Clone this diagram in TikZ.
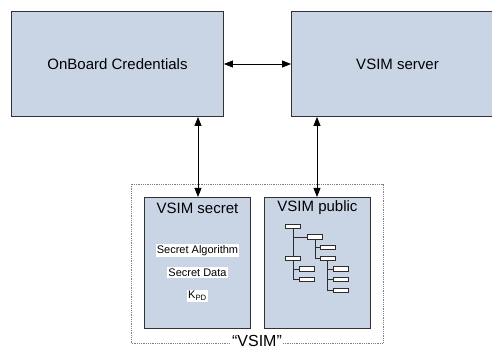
\documentclass[tikz,border=0pt]{standalone}
\usepackage{fontspec}
\setmainfont{Liberation Sans}
\usetikzlibrary{arrows.meta}
\definecolor{boxfill}{RGB}{201,213,229}
\definecolor{boxline}{RGB}{50,50,50}
\definecolor{treeline}{RGB}{45,45,45}
\tikzset{
  bigbox/.style={draw=boxline, line width=0.9pt, fill=boxfill, minimum width=212pt,
    minimum height=105pt, inner sep=0pt, font=\fontsize{15}{18}\selectfont},
  innerbox/.style={draw=boxline, line width=1.1pt, fill=boxfill, minimum width=106pt,
    minimum height=131pt, inner sep=0pt},
  boxtitle/.style={inner sep=0pt, font=\fontsize{15}{18}\selectfont},
  secretitem/.style={fill=white, inner sep=1.2pt, font=\fontsize{11}{13}\selectfont},
  leaf/.style={draw=treeline, line width=1pt, fill=white, minimum width=15pt,
    minimum height=4.4pt, inner sep=0pt},
  link/.style={draw=treeline, line width=1pt},
  biarrow/.style={line width=0.8pt, {Triangle[length=9pt,width=7pt]}-{Triangle[length=9pt,width=7pt]}},
  outline/.style={draw=gray, line width=0.6pt, dash pattern=on 1pt off 0.8pt}
}
\begin{document}
\begin{tikzpicture}[x=1pt, y=-1pt]
  \useasboundingbox (0,0) rectangle (492,348);
  \clip (0,0) rectangle (492,348);

  % top level components
  \node[bigbox] (obc) at (117.5,64) {OnBoard Credentials};
  \node[bigbox] (srv) at (397.5,64) {VSIM server};

  % the VSIM container
  \draw[outline] (131,184) rectangle (383,343.5);
  \node[innerbox] (sec) at (197.5,263) {};
  \node[innerbox] (pub) at (317.5,263) {};
  \node[boxtitle] at (197.5,208) {VSIM secret};
  \node[boxtitle] at (317.5,208) {VSIM public};
  \node[fill=white, inner xsep=1.5pt, inner ysep=0pt, font=\fontsize{16}{18}\selectfont] (lbl) at (257,340.5) {“VSIM”};

  % secret contents
  \node[secretitem] (alg) at (197.5,250.5) {Secret Algorithm};
  \node[secretitem] (dat) at (197.5,272.5) {Secret Data};
  \node[secretitem] (kpd) at (197.5,296) {K\textsubscript{PD}};

  % public data tree
  \node[leaf] (ta) at (293.3,226.4) {};
  \node[leaf] (tb) at (315,237) {};
  \node[leaf] (tc) at (293.3,258.3) {};
  \node[leaf] (td) at (327.7,247.7) {};
  \node[leaf] (te) at (327.7,258.3) {};
  \node[leaf] (tf) at (306.7,269) {};
  \node[leaf] (tg) at (306.7,279.7) {};
  \node[leaf] (th) at (341.3,269) {};
  \node[leaf] (ti) at (341.3,279.7) {};
  \node[leaf] (tj) at (341.3,290.3) {};
  \draw[link] (ta.south) |- (tb.west);
  \draw[link] (ta.south) -- (tc.north);
  \draw[link] (tb.south) |- (td.west);
  \draw[link] (tb.south) |- (te.west);
  \draw[link] (tc.south) |- (tf.west);
  \draw[link] (tc.south) |- (tg.west);
  \draw[link] (te.south) |- (th.west);
  \draw[link] (te.south) |- (ti.west);
  \draw[link] (te.south) |- (tj.west);

  % connectors
  \draw[biarrow] (obc.east) -- (obc.east -| srv.west);
  \draw[biarrow] (obc.south -| sec.north) ++(0.5,0) coordinate (oa) -- (oa |- sec.north);
  \draw[biarrow] (srv.south -| pub.north) ++(-0.5,0) coordinate (ob) -- (ob |- pub.north);
\end{tikzpicture}
\end{document}
